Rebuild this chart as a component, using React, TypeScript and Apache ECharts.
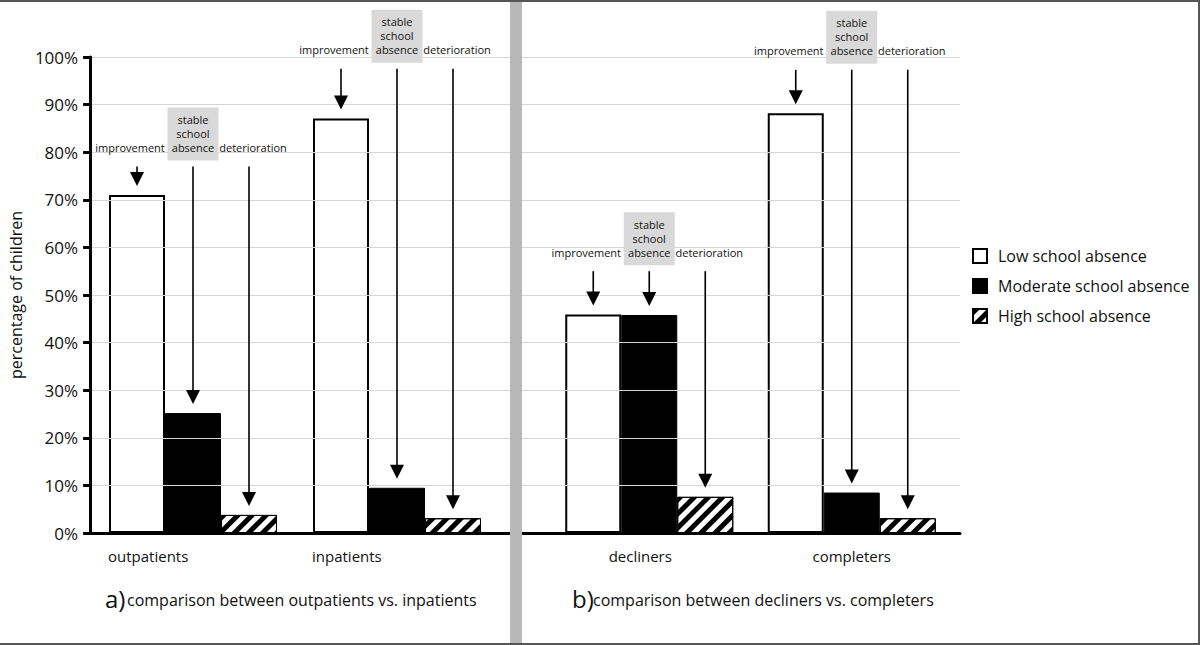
import React, { useEffect, useRef } from "react";
import * as echarts from "echarts";

// ---- data ----
const panelACategories = ["outpatients", "inpatients"];
const panelBCategories = ["decliners", "completers"];
const seriesNames = ["Low school absence", "Moderate school absence", "High school absence"];
const lowA = [71.0, 87.1];
const moderateA = [25.2, 9.5];
const highA = [3.8, 3.1];
const lowB = [45.9, 88.2];
const moderateB = [45.8, 8.5];
const highB = [7.6, 3.1];
const annotationTexts = ["improvement", "stable\nschool\nabsence", "deterioration"];
// level (in % of the y scale) of the annotation text row above each group
const annotationLevelA = [81.0, 101.5];
const annotationLevelB = [59.0, 101.3];
const panelTitles = [
  ["a)", "comparison between outpatients vs. inpatients"],
  ["b)", "comparison between decliners vs. completers"],
];
const yAxisName = "percentage of children";

// ---- styles ----
const FONT = '"Open Sans", "Noto Sans", "DejaVu Sans", sans-serif';
const BAR_W = 56;
const TEXT = "#111";

const lowStyle = { color: "#ffffff", borderColor: "#000", borderWidth: 2 };
const modStyle = { color: "#000000", borderColor: "#000", borderWidth: 1 };
const highStyle = {
  color: "#ffffff",
  borderColor: "#000",
  borderWidth: 1,
  decal: {
    symbol: "rect",
    symbolSize: 1,
    color: "#000",
    backgroundColor: "#fff",
    dashArrayX: [1, 0],
    dashArrayY: [5, 5],
    rotation: -Math.PI / 4,
  },
};

function bar(name: string, data: number[], idx: number, style: any) {
  return {
    type: "bar",
    name,
    xAxisIndex: idx,
    yAxisIndex: idx,
    data,
    barWidth: BAR_W,
    barGap: "0%",
    itemStyle: style,
    emphasis: { disabled: true },
    z: 3,
  };
}

export default function App() {
  const ref = useRef<HTMLDivElement>(null);
  useEffect(() => {
    if (!ref.current) return;
    const chart = echarts.init(ref.current, undefined, { renderer: "svg" });
    const hiddenY = (g: number) => ({ gridIndex: g, type: "value", min: 0, max: 100, interval: 10, show: false });
    chart.setOption({
      animation: false,
      backgroundColor: "#ffffff",
      textStyle: { fontFamily: FONT },
      grid: [
        { left: 86, top: 57, width: 874, height: 476 },
        { left: 91, top: 57, width: 408, height: 476 },
        { left: 548, top: 57, width: 405, height: 476 },
      ],
      xAxis: [
        {
          gridIndex: 0,
          type: "category",
          data: [""],
          z: 10,
          axisLine: { lineStyle: { color: "#000", width: 3 } },
          axisTick: { show: false },
          axisLabel: { show: false },
          splitLine: { show: false },
        },
        { gridIndex: 1, type: "category", data: panelACategories, show: false },
        { gridIndex: 2, type: "category", data: panelBCategories, show: false },
      ],
      yAxis: [
        {
          gridIndex: 0,
          type: "value",
          min: 0,
          max: 100,
          interval: 10,
          z: 10,
          axisLine: { show: true, lineStyle: { color: "#000", width: 3 } },
          axisTick: { show: true, length: 7, lineStyle: { color: "#000", width: 3 } },
          axisLabel: { formatter: "{value}%", fontSize: 17, color: TEXT, fontFamily: FONT, margin: 12 },
          splitLine: { show: true, lineStyle: { color: "#d6d6d6", width: 1 } },
          name: yAxisName,
          nameLocation: "middle",
          nameGap: 50,
          nameTextStyle: { fontSize: 16, color: TEXT, fontFamily: FONT },
        },
        hiddenY(1),
        hiddenY(2),
      ],
      legend: {
        orient: "vertical",
        left: 972,
        top: 248,
        padding: 0,
        icon: "rect",
        itemWidth: 14,
        itemHeight: 14,
        itemGap: 14,
        selectedMode: false,
        data: seriesNames,
        textStyle: { fontSize: 16, color: TEXT, fontFamily: FONT, padding: [0, 0, 0, 6] },
      },
      series: [
        bar(seriesNames[0], lowA, 1, lowStyle),
        bar(seriesNames[1], moderateA, 1, modStyle),
        bar(seriesNames[2], highA, 1, highStyle),
        bar(seriesNames[0], lowB, 2, lowStyle),
        bar(seriesNames[1], moderateB, 2, modStyle),
        bar(seriesNames[2], highB, 2, highStyle),
      ],
    });

    // ---- annotations, computed from the chart's own scales ----
    const graphics: any[] = [];
    const panels = [
      { grid: 1, cats: panelACategories, vals: [lowA, moderateA, highA], levels: annotationLevelA, leftAlign: true },
      { grid: 2, cats: panelBCategories, vals: [lowB, moderateB, highB], levels: annotationLevelB, leftAlign: false },
    ];
    panels.forEach((p) => {
      p.cats.forEach((cat, gi) => {
        const xc = chart.convertToPixel({ gridIndex: p.grid }, [gi, 0])[0];
        const yBase = chart.convertToPixel({ gridIndex: p.grid }, [gi, 0])[1];
        const yLabel = chart.convertToPixel({ gridIndex: p.grid }, [gi, p.levels[gi]])[1];
        // category label
        graphics.push({
          type: "text",
          x: p.leftAlign ? xc - 1.5 * BAR_W - 1 : xc - (gi === 0 ? 9 : 0),
          y: yBase + 23,
          z: 20,
          style: {
            text: cat,
            fontSize: 15,
            fontFamily: FONT,
            fill: TEXT,
            align: p.leftAlign ? "left" : "center",
            verticalAlign: "middle",
          },
        });
        [0, 1, 2].forEach((si) => {
          const bx = xc + (si - 1) * BAR_W;
          const yTop = chart.convertToPixel({ gridIndex: p.grid }, [gi, p.vals[si][gi]])[1];
          const tip = yTop - 9;
          const start = yLabel + 19;
          const tx = bx + (si === 0 ? -7 : si === 2 ? 4 : 0);
          if (si === 1) {
            graphics.push({
              type: "rect",
              z: 15,
              shape: { x: bx - 25.5, y: yLabel - 40, width: 51, height: 53 },
              style: { fill: "#d9d9d9" },
            });
            ["stable", "school", "absence"].forEach((t, li) => {
              graphics.push({
                type: "text",
                x: bx,
                y: yLabel - 28 + li * 14,
                z: 16,
                style: { text: t, fontSize: 11, fontFamily: FONT, fill: TEXT, align: "center", verticalAlign: "middle" },
              });
            });
          } else {
            graphics.push({
              type: "text",
              x: tx,
              y: yLabel,
              z: 16,
              style: {
                text: annotationTexts[si],
                fontSize: 11,
                fontFamily: FONT,
                fill: TEXT,
                align: "center",
                verticalAlign: "middle",
              },
            });
          }
          graphics.push({
            type: "line",
            z: 16,
            shape: { x1: bx, y1: start, x2: bx, y2: tip - 12 },
            style: { stroke: "#000", lineWidth: 1.6 },
          });
          graphics.push({
            type: "polygon",
            z: 16,
            shape: {
              points: [
                [bx - 7, tip - 14],
                [bx + 7, tip - 14],
                [bx, tip],
              ],
            },
            style: { fill: "#000" },
          });
        });
      });
    });

    // panel titles
    const titleX = [[105, 127], [572, 593]];
    panelTitles.forEach((t, i) => {
      graphics.push({
        type: "text",
        x: titleX[i][0],
        y: 598,
        z: 20,
        style: { text: t[0], fontSize: 24, fontFamily: FONT, fill: TEXT, align: "left", verticalAlign: "middle" },
      });
      graphics.push({
        type: "text",
        x: titleX[i][1],
        y: 600,
        z: 20,
        style: { text: t[1], fontSize: 16, fontFamily: FONT, fill: TEXT, align: "left", verticalAlign: "middle" },
      });
    });

    // separator and frame
    graphics.push({ type: "rect", z: 50, shape: { x: 510, y: 0, width: 12, height: 645 }, style: { fill: "#b8b8b8" } });
    graphics.push({ type: "rect", z: 50, shape: { x: 0, y: 0, width: 1200, height: 2 }, style: { fill: "#555" } });
    graphics.push({ type: "rect", z: 50, shape: { x: 0, y: 643, width: 1200, height: 2 }, style: { fill: "#555" } });
    graphics.push({ type: "rect", z: 50, shape: { x: 1198, y: 0, width: 2, height: 645 }, style: { fill: "#555" } });

    chart.setOption({ graphic: graphics });
    return () => chart.dispose();
  }, []);
  return (
    <div
      ref={ref}
      style={{ position: "absolute", left: 0, top: 0, width: 1200, height: 645, background: "#fff" }}
    />
  );
}
